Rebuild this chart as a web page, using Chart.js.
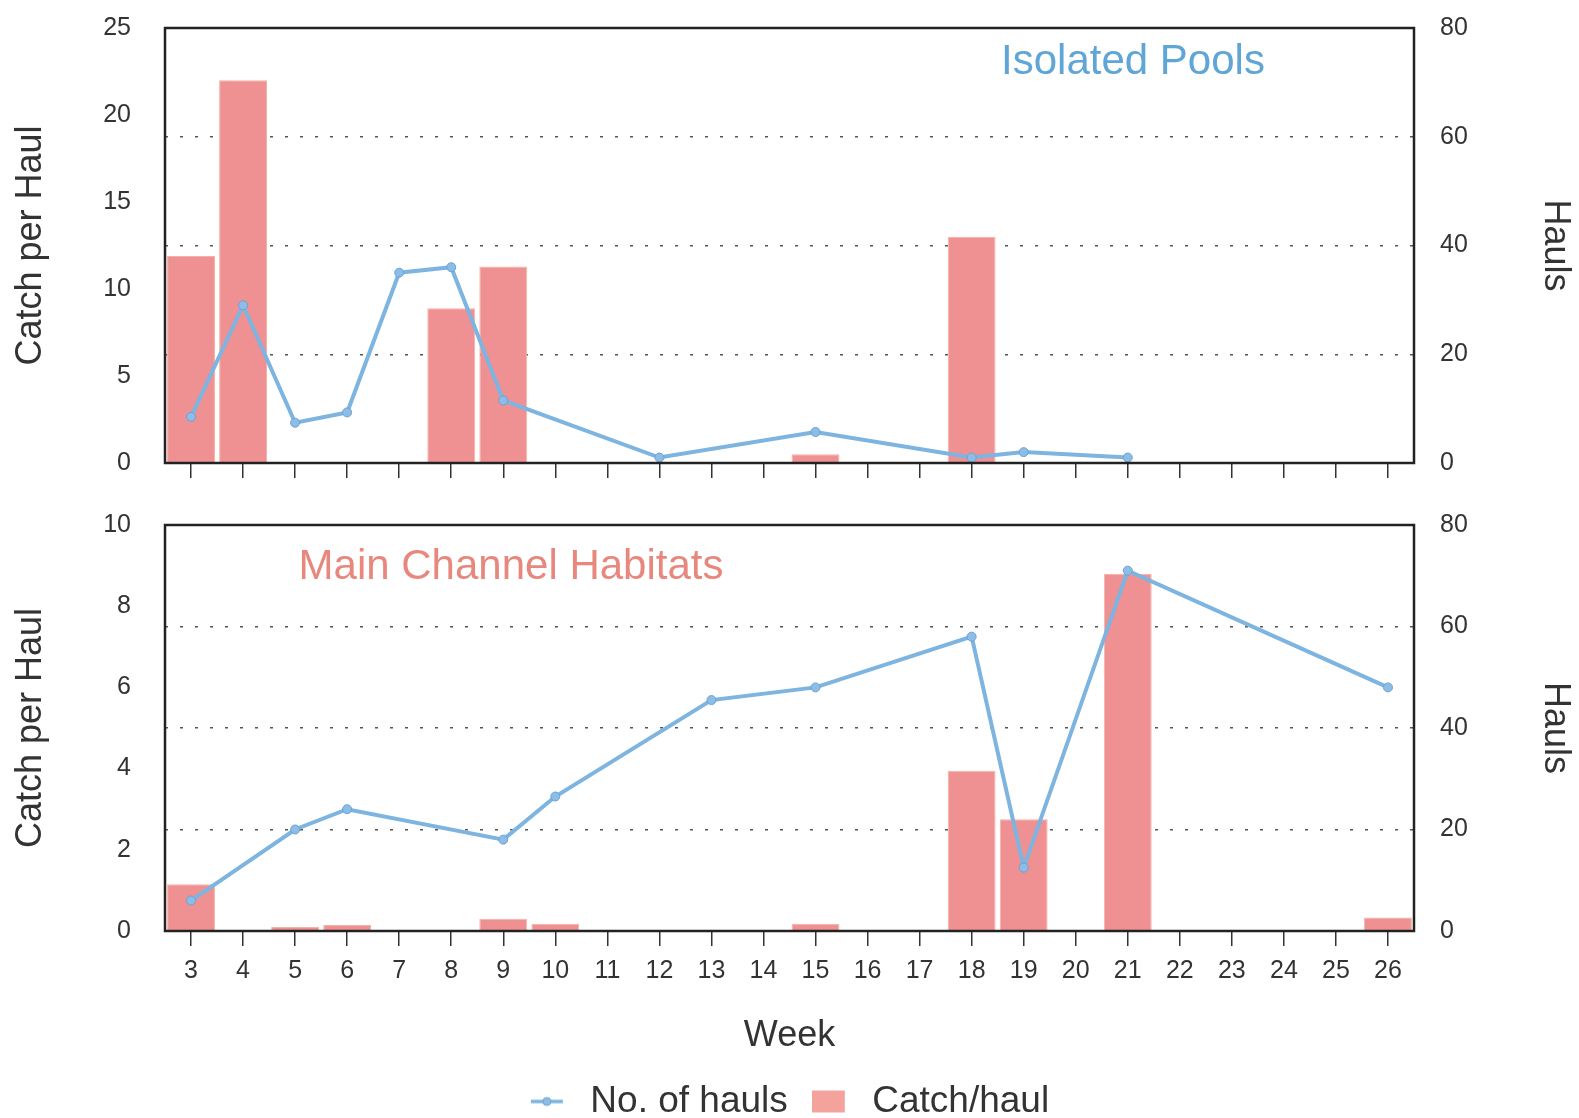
<!DOCTYPE html>
<html><head><meta charset="utf-8">
<script src="https://cdn.jsdelivr.net/npm/chart.js@4.4.0/dist/chart.umd.min.js"></script>
<style>
html,body{margin:0;padding:0;background:#fff;overflow:hidden;}
#top{position:absolute;left:0;top:0;width:1579px;height:500px;}
#bot{position:absolute;left:0;top:500px;width:1579px;height:630px;}
</style></head><body>
<div id="top"><canvas id="c1"></canvas></div>
<div id="bot"><canvas id="c2"></canvas></div>
<script>
const weeks = ['3','4','5','6','7','8','9','10','11','12','13','14','15','16','17','18','19','20','21','22','23','24','25','26'];
// Isolated Pools
const poolsCatch = [11.9, 22, null, null, null, 8.9, 11.3, null, null, null, null, null, 0.5, null, null, 13.0, null, null, null, null, null, null, null, null];
const poolsHauls = [8.5, 29, 7.4, 9.3, 35, 36, 11.5, null, null, 1, null, null, 5.7, null, null, 1, 2, null, 1, null, null, null, null, null];
// Main Channel Habitats
const channelCatch = [1.15, null, 0.1, 0.15, null, null, 0.3, 0.18, null, null, null, null, 0.18, null, null, 3.95, 2.75, null, 8.8, null, null, null, null, 0.33];
const channelHauls = [6, null, 20, 24, null, null, 18, 26.5, null, null, 45.5, null, 48, null, null, 58, 12.5, null, 71, null, null, null, null, 48];
const leftTicksTop = {max: 25, step: 5};
const leftTicksBottom = {max: 10, step: 2};
const rightTicks = {max: 80, step: 20};

const FONT = "'Liberation Sans', Arial, Helvetica, sans-serif";
const TXT = '#333';
const LINE_C = '#7db4e0';
const BAR_C = '#ef9092';

const framePlugin = {
  id: 'frame',
  afterDatasetsDraw(chart) {
    const a = chart.chartArea, ctx = chart.ctx;
    ctx.save();
    ctx.strokeStyle = '#222';
    ctx.lineWidth = 2.5;
    ctx.strokeRect(a.left, a.top, a.right - a.left, a.bottom - a.top);
    ctx.restore();
  },
  afterDraw(chart, args, opts) {
    if (!opts || !opts.text) return;
    const ctx = chart.ctx;
    ctx.save();
    ctx.font = '42px ' + FONT;
    ctx.fillStyle = opts.color;
    ctx.textAlign = 'center';
    ctx.textBaseline = 'middle';
    ctx.fillText(opts.text, opts.x, opts.y);
    ctx.restore();
  }
};

function lineGlyph() {
  const c = document.createElement('canvas');
  c.width = 42; c.height = 12;
  const g = c.getContext('2d');
  g.strokeStyle = LINE_C; g.lineWidth = 3.5;
  g.beginPath(); g.moveTo(1, 6); g.lineTo(33, 6); g.stroke();
  g.fillStyle = '#8dbde6'; g.strokeStyle = '#6aa3d4'; g.lineWidth = 1;
  g.beginPath(); g.arc(17, 6, 4, 0, Math.PI * 2); g.fill(); g.stroke();
  return c;
}
function boxGlyph() {
  const c = document.createElement('canvas');
  c.width = 42; c.height = 24;
  const g = c.getContext('2d');
  g.fillStyle = '#f3a39c';
  g.fillRect(0, 1, 33, 22);
  return c;
}

function fixY(s) {
  s.width = 165;
  s.paddingTop = 0;
  s.paddingBottom = 0;
}

function makeChart(id, catchData, haulsData, leftT, opts) {
  return new Chart(document.getElementById(id), {
    type: 'bar',
    data: {
      labels: weeks,
      datasets: [
        {
          type: 'line', label: 'No. of hauls', data: haulsData, yAxisID: 'y1', order: 0,
          borderColor: LINE_C, borderWidth: 4, spanGaps: true, tension: 0,
          pointRadius: 4.5, pointBackgroundColor: '#8dbde6', pointBorderColor: '#6aa3d4', pointBorderWidth: 1
        },
        {
          type: 'bar', label: 'Catch/haul', data: catchData, yAxisID: 'y', order: 1,
          backgroundColor: BAR_C, borderColor: '#f4b2a4', borderWidth: 1,
          categoryPercentage: 1.0, barPercentage: 0.92
        }
      ]
    },
    options: {
      responsive: true, maintainAspectRatio: false, animation: false,
      layout: { padding: opts.padding },
      plugins: {
        legend: opts.legend,
        tooltip: { enabled: false },
        frame: opts.panel
      },
      scales: {
        x: {
          offset: true,
          grid: { offset: false, drawOnChartArea: false, drawTicks: true, tickLength: 15, color: '#333', lineWidth: 1.5 },
          border: { display: false },
          ticks: { display: opts.showX, color: TXT, font: { family: FONT, size: 25 }, padding: 10, maxRotation: 0, autoSkip: false },
          title: { display: opts.showX, text: 'Week', color: TXT, font: { family: FONT, size: 36 }, padding: { top: 0, bottom: 1 } },
          afterFit: s => { s.height = opts.xHeight; }
        },
        y: {
          position: 'left', min: 0, max: leftT.max,
          ticks: { stepSize: leftT.step, color: TXT, font: { family: FONT, size: 25 }, padding: 26 },
          grid: { display: false },
          border: { display: false },
          title: { display: true, text: 'Catch per Haul', color: TXT, font: { family: FONT, size: 36 }, padding: { top: 9, bottom: 0 } },
          afterFit: fixY
        },
        y1: {
          position: 'right', min: 0, max: rightTicks.max,
          ticks: { stepSize: rightTicks.step, color: TXT, font: { family: FONT, size: 25 }, padding: 26 },
          grid: {
            drawOnChartArea: true, drawTicks: false, lineWidth: 1.5,
            color: c => (c.tick && (c.tick.value === 0 || c.tick.value === rightTicks.max)) ? 'rgba(0,0,0,0)' : '#555'
          },
          border: { display: false, dash: [3, 12] },
          title: { display: true, text: 'Hauls', color: TXT, font: { family: FONT, size: 36 }, padding: { top: 2, bottom: 0 } },
          afterFit: fixY
        }
      }
    },
    plugins: [framePlugin]
  });
}

const lg = lineGlyph();
const bg = boxGlyph();

makeChart('c1', poolsCatch, poolsHauls, leftTicksTop, {
  padding: { top: 28, left: 0, right: 0, bottom: 0 },
  legend: { display: false },
  panel: { text: 'Isolated Pools', color: '#5fa6d6', x: 1133, y: 62 },
  showX: false,
  xHeight: 37
});

makeChart('c2', channelCatch, channelHauls, leftTicksBottom, {
  padding: { top: 25, left: 0, right: 0, bottom: 0 },
  legend: {
    display: true, position: 'bottom',
    labels: {
      color: TXT, font: { family: FONT, size: 37 }, usePointStyle: true, pointStyleWidth: 42, boxHeight: 24, padding: 24,
      generateLabels: chart => {
        const items = Chart.defaults.plugins.legend.labels.generateLabels(chart);
        items.forEach(it => {
          it.pointStyle = (it.text === 'No. of hauls') ? lg : bg;
        });
        return items;
      }
    }
  },
  panel: { text: 'Main Channel Habitats', color: '#e8877d', x: 511, y: 67 },
  showX: true,
  xHeight: 128
});
</script>
</body></html>
